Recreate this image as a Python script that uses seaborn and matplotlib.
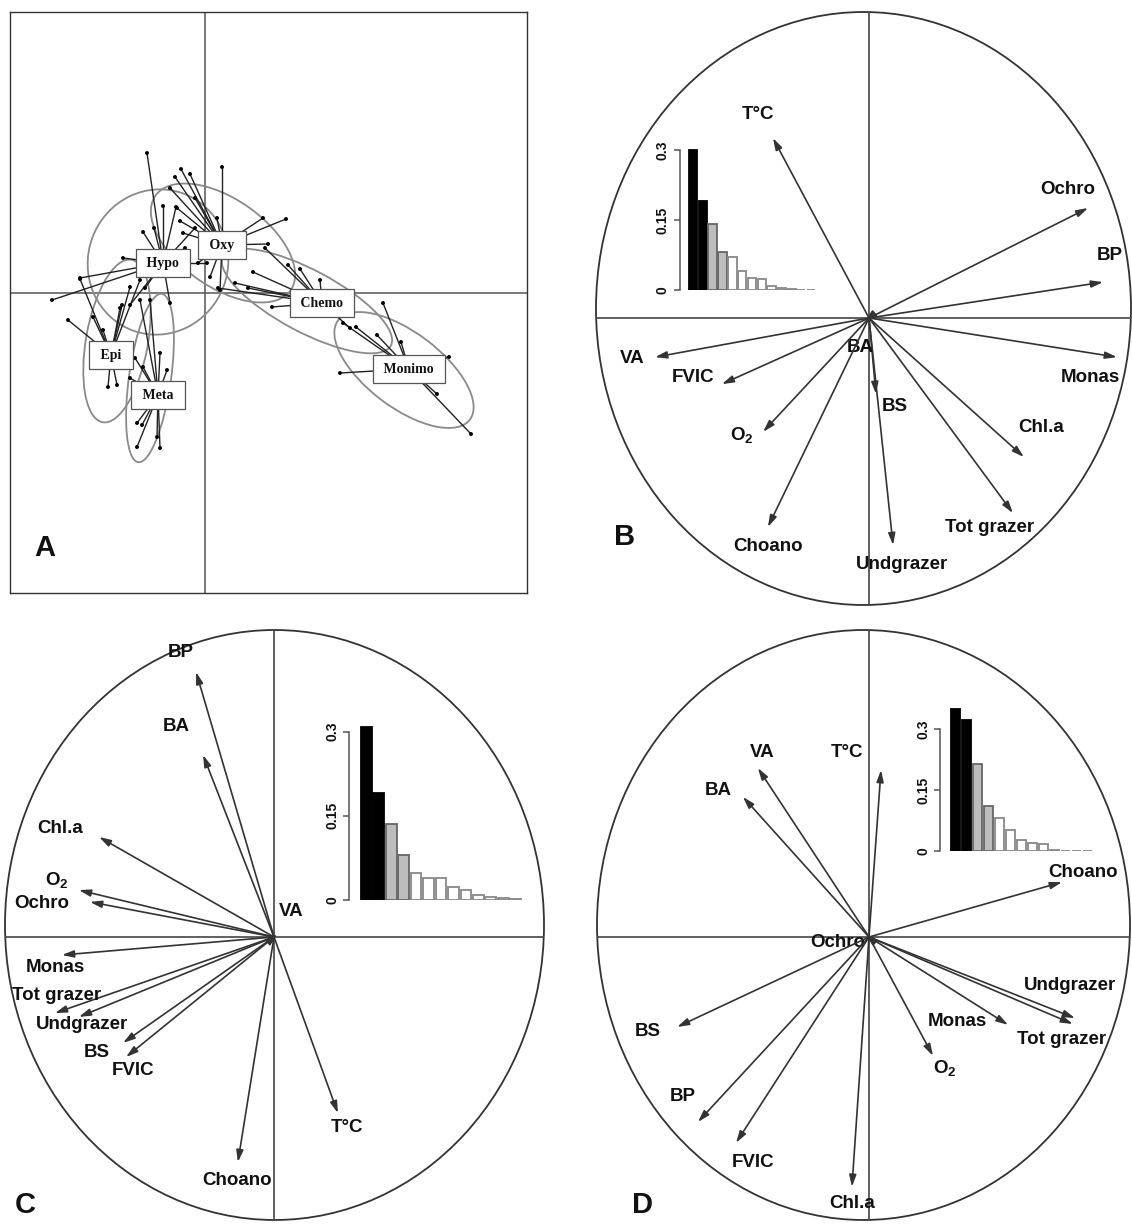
import numpy as np
import pandas as pd
import seaborn as sns
import matplotlib.pyplot as plt
from matplotlib.patches import Ellipse

W, H = 1132, 1224

# ---------------- Panel A : centres de groupes et relevés
group_names = ["Hypo", "Oxy", "Chemo", "Epi", "Meta", "Monimo"]
group_cx = [-0.42, 0.17, 1.17, -0.94, -0.47, 2.04]
group_cy = [0.30, 0.48, -0.10, -0.62, -1.02, -0.76]

hypo_x = [-0.58, -0.42, -0.29, -0.51, -0.62, -0.82, -1.25, -1.53, -0.60, -0.75, -0.35, -0.20, 0.02, -0.10]
hypo_y = [1.40, 0.87, 0.86, 0.65, 0.61, 0.35, 0.15, -0.07, 0.05, -0.12, -0.10, 0.45, 0.30, 0.65]
oxy_x = [-0.24, -0.15, -0.30, 0.17, 0.12, 0.58, 0.81, 0.63, -0.28, -0.22, 0.05, 0.15, -0.07, -0.35, -0.10, -0.25, -0.05]
oxy_y = [1.24, 1.19, 1.16, 1.26, 0.75, 0.75, 0.74, 0.49, 0.85, 0.60, 0.16, 0.03, 0.30, 1.05, 0.95, 0.72, 0.55]
chemo_x = [0.95, 1.15, 0.67, 0.83, 0.43, 0.13, 0.48, 0.30, 1.45, 0.60]
chemo_y = [0.24, 0.13, -0.14, 0.28, 0.05, 0.05, 0.21, 0.10, -0.35, 0.45]
epi_x = [-1.37, -1.25, -0.85, -1.02, -0.97, -0.88, -0.65, -1.12, -0.75, -0.83]
epi_y = [-0.27, 0.14, -0.15, -0.37, -0.94, -0.92, 0.13, -0.24, 0.06, -0.12]
meta_x = [-0.45, -0.38, -0.70, -0.62, -0.68, -0.63, -0.68, -0.45, -0.48, -0.65, -0.55, -0.75]
meta_y = [-0.60, -0.77, -0.65, -0.74, -1.30, -1.32, -1.54, -1.55, -1.44, -0.07, -0.07, -0.85]
monimo_x = [1.78, 1.96, 2.44, 1.35, 2.32, 2.66, 1.38, 1.51, 1.72]
monimo_y = [-0.10, -0.49, -0.64, -0.80, -1.01, -1.41, -0.30, -0.34, -0.42]

# ellipses d'inertie (centre, largeur, hauteur, angle)
ell_cx = [-0.47, 0.18, 1.02, -0.88, -0.55, 1.99]
ell_cy = [0.31, 0.50, -0.08, -0.48, -0.85, -0.77]
ell_w = [1.40, 1.65, 1.90, 1.65, 1.70, 1.65]
ell_h = [1.46, 0.88, 0.62, 0.62, 0.42, 0.75]
ell_ang = [-20, -35, -28, 80, 82, -37]

# ---------------- Panels B, C, D : cercles des corrélations
b_names = ["T°C", "Ochro", "BP", "Monas", "Chl.a", "Tot grazer", "Undgrazer", "BS", "BA",
           "Choano", "O2", "FVIC", "VA"]
b_x = [-0.359, 0.819, 0.875, 0.927, 0.579, 0.538, 0.090, 0.026, -0.015, -0.378, -0.396, -0.550, -0.800]
b_y = [0.607, 0.371, 0.121, -0.132, -0.469, -0.658, -0.766, -0.256, -0.012, -0.705, -0.384, -0.223, -0.132]
b_lab_x = [-0.415, 0.744, 0.900, 0.826, 0.643, 0.452, 0.123, 0.097, -0.034, -0.378, -0.475, -0.658, -0.886]
b_lab_y = [0.685, 0.432, 0.212, -0.199, -0.368, -0.705, -0.833, -0.297, -0.098, -0.769, -0.395, -0.202, -0.138]
b_eig = [0.300, 0.191, 0.141, 0.081, 0.071, 0.041, 0.025, 0.024, 0.009, 0.005, 0.002, 0.001, 0.001]

c_names = ["BP", "BA", "Chl.a", "O2", "Ochro", "VA", "Monas", "Tot grazer", "Undgrazer",
           "BS", "FVIC", "T°C", "Choano"]
c_x = [-0.289, -0.263, -0.649, -0.724, -0.683, 0.012, -0.787, -0.813, -0.724, -0.560, -0.549, 0.237, -0.134]
c_y = [0.898, 0.617, 0.339, 0.159, 0.119, 0.010, -0.061, -0.258, -0.271, -0.359, -0.407, -0.597, -0.763]
c_lab_x = [-0.345, -0.364, -0.794, -0.805, -0.861, 0.063, -0.813, -0.805, -0.712, -0.657, -0.523, 0.271, -0.137]
c_lab_y = [0.963, 0.712, 0.369, 0.193, 0.115, 0.085, -0.105, -0.197, -0.295, -0.390, -0.451, -0.647, -0.824]
c_eig = [0.308, 0.190, 0.135, 0.080, 0.048, 0.040, 0.039, 0.024, 0.018, 0.009, 0.006, 0.003, 0.001]

d_names = ["VA", "BA", "T°C", "Choano", "Ochro", "Undgrazer", "Tot grazer", "Monas", "O2",
           "BS", "BP", "FVIC", "Chl.a"]
d_x = [-0.417, -0.473, 0.045, 0.724, -0.012, 0.773, 0.765, 0.522, 0.240, -0.720, -0.642, -0.499, -0.064]
d_y = [0.573, 0.475, 0.566, 0.186, 0.010, -0.275, -0.295, -0.298, -0.403, -0.305, -0.627, -0.698, -0.847]
d_lab_x = [-0.401, -0.567, -0.083, 0.803, -0.116, 0.754, 0.724, 0.330, 0.285, -0.829, -0.698, -0.435, -0.064]
d_lab_y = [0.627, 0.498, 0.627, 0.217, -0.020, -0.163, -0.349, -0.288, -0.444, -0.322, -0.542, -0.766, -0.902]
d_eig = [0.349, 0.323, 0.214, 0.110, 0.082, 0.053, 0.028, 0.020, 0.018, 0.002, 0.001, 0.001, 0.001]

sns.set_theme(style="white")
plt.rcParams["font.family"] = ["Liberation Sans", "DejaVu Sans"]
plt.rcParams["mathtext.fontset"] = "custom"
plt.rcParams["mathtext.bf"] = "Liberation Sans:bold"
plt.rcParams["mathtext.rm"] = "Liberation Sans"

fig = plt.figure(figsize=(W / 100, H / 100), dpi=100)


def px_axes(x0, y0, x1, y1):
    return fig.add_axes([x0 / W, 1 - y1 / H, (x1 - x0) / W, (y1 - y0) / H])


# ---------------- A
axA = px_axes(10, 12, 527, 593)
axA.set_xlim(-1.95, 3.22)
axA.set_ylim(-3.0, 2.81)
axA.set_xticks([])
axA.set_yticks([])
for s in axA.spines.values():
    s.set_color("#333333")
    s.set_linewidth(1.0)
axA.axhline(0, color="#555555", lw=1.1)
axA.axvline(0, color="#555555", lw=1.1)

pts = [(hypo_x, hypo_y), (oxy_x, oxy_y), (chemo_x, chemo_y),
       (epi_x, epi_y), (meta_x, meta_y), (monimo_x, monimo_y)]
rows = []
for g, (xs, ys) in zip(group_names, pts):
    for x, y in zip(xs, ys):
        rows.append({"x": x, "y": y, "group": g})
dfA = pd.DataFrame(rows)

for i in range(len(group_names)):
    axA.add_patch(Ellipse((ell_cx[i], ell_cy[i]), ell_w[i], ell_h[i], angle=ell_ang[i],
                          fill=False, ec="#8a8a8a", lw=1.3, zorder=2))

cx_map = dict(zip(group_names, group_cx))
cy_map = dict(zip(group_names, group_cy))
for _, r in dfA.iterrows():
    axA.plot([cx_map[r["group"]], r["x"]], [cy_map[r["group"]], r["y"]],
             color="#222222", lw=1.0, zorder=3)
sns.scatterplot(data=dfA, x="x", y="y", color="black", s=8, edgecolor="none",
                legend=False, ax=axA, zorder=4)
axA.set_xlabel("")
axA.set_ylabel("")
for g, x, y in zip(group_names, group_cx, group_cy):
    axA.text(x, y, " " + g + " ", ha="center", va="center", fontsize=10, fontweight="bold",
             family=["Liberation Serif", "DejaVu Serif"], zorder=6, color="#111111",
             bbox=dict(boxstyle="square,pad=0.55", fc="white", ec="#555555", lw=0.9))


def fmt(name):
    if name == "O2":
        return r"$\mathbf{O_2}$"
    return name


def circle_panel(box, origin, names, xs, ys, lxs, lys, eig, scree_box, spine_off):
    x0, y0, x1, y1 = box
    ox, oy = origin
    sx = (x1 - x0) / 2
    sy = (y1 - y0) / 2
    ax = px_axes(x0, y0, x1, y1)
    ax.set_xlim((x0 - ox) / sx, (x1 - ox) / sx)
    ax.set_ylim((oy - y1) / sy, (oy - y0) / sy)
    ax.axis("off")
    ecx = ((x0 + x1) / 2 - ox) / sx
    ecy = (oy - (y0 + y1) / 2) / sy
    ax.add_patch(Ellipse((ecx, ecy), 2, 2, fill=False, ec="#333333", lw=1.3, clip_on=False))
    ax.axhline(0, color="#444444", lw=1.2)
    ax.axvline(0, color="#444444", lw=1.2)
    for n, x, y, lx, ly in zip(names, xs, ys, lxs, lys):
        ax.annotate("", xy=(x, y), xytext=(0, 0),
                    arrowprops=dict(arrowstyle="-|>,head_length=0.5,head_width=0.15",
                                    mutation_scale=14, lw=1.2, color="#333333",
                                    shrinkA=0, shrinkB=0))
        ax.text(lx, ly, fmt(n), ha="center", va="center", fontsize=13.5,
                fontweight="bold", color="#111111")

    # éboulis des valeurs propres
    bx0, by_top, bx1, by0 = scree_box
    axs = px_axes(bx0, by_top, bx1, by0)
    n = len(eig)
    fills = ["black", "black", "#bdbdbd", "#bdbdbd"] + ["white"] * (n - 4)
    edges = ["black", "black", "#666666", "#666666"] + ["#888888"] * (n - 4)
    sns.barplot(x=list(range(n)), y=eig, hue=list(range(n)), palette=fills,
                legend=False, width=0.86, linewidth=1.3, ax=axs)
    for p, ec in zip(axs.patches, edges):
        p.set_edgecolor(ec)
    axs.set_xlim(-0.5, n - 0.5)
    axs.set_ylim(0, 0.36)
    axs.patch.set_alpha(0)
    for s in ["top", "right", "bottom"]:
        axs.spines[s].set_visible(False)
    axs.spines["left"].set_bounds(0, 0.3)
    axs.spines["left"].set_position(("outward", spine_off))
    axs.spines["left"].set_color("#555555")
    axs.spines["left"].set_linewidth(1.1)
    axs.set_xticks([])
    axs.set_yticks([0, 0.15, 0.3])
    axs.set_yticklabels(["0", "0.15", "0.3"], rotation=90, va="center",
                        fontsize=10, fontweight="bold", color="#111111")
    axs.tick_params(axis="y", left=True, length=4, width=1.1, color="#555555", pad=3)
    axs.set_xlabel("")
    axs.set_ylabel("")


circle_panel((596, 12, 1131, 605), (869, 318), b_names, b_x, b_y, b_lab_x, b_lab_y,
             b_eig, (688, 122, 816, 290), 6)
circle_panel((5, 630, 544, 1220), (274, 937), c_names, c_x, c_y, c_lab_x, c_lab_y,
             c_eig, (360, 698, 522, 900), 8)
circle_panel((597, 630, 1130, 1220), (869, 937), d_names, d_x, d_y, d_lab_x, d_lab_y,
             d_eig, (950, 705, 1093, 851), 7)

for letter, px, py in [("A", 45, 548), ("B", 625, 537), ("C", 25, 1205), ("D", 642, 1205)]:
    fig.text(px / W, 1 - py / H, letter, ha="center", va="center",
             fontsize=21, fontweight="bold", color="#111111")

fig.savefig("out.png", dpi=100, facecolor="white")
